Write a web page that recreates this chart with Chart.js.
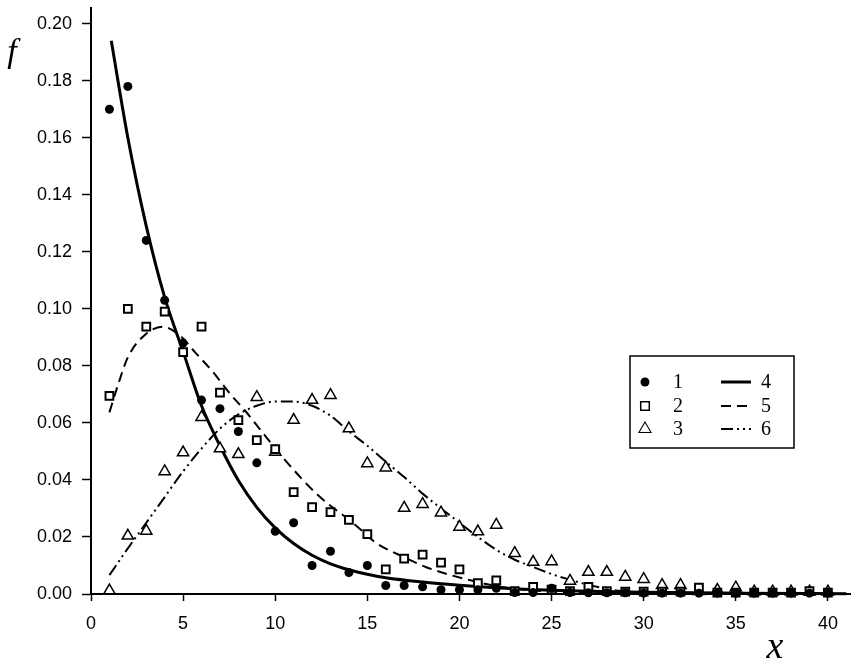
<!DOCTYPE html>
<html>
<head>
<meta charset="utf-8">
<script src="https://cdn.jsdelivr.net/npm/chart.js@4.4.1/dist/chart.umd.min.js"></script>
<style>
  html, body { margin: 0; padding: 0; background: #fff; }
  #wrap { width: 858px; height: 661px; }
</style>
</head>
<body>
<div id="wrap"><canvas id="scatterChart" width="858" height="661"></canvas></div>
<script>
// points, x = 1..40
const xValues = [1,2,3,4,5,6,7,8,9,10,11,12,13,14,15,16,17,18,19,20,21,22,23,24,25,26,27,28,29,30,31,32,33,34,35,36,37,38,39,40];
const series1 = [0.170,0.178,0.124,0.103,0.088,0.068,0.065,0.057,0.046,0.022,0.025,0.010,0.015,0.0075,0.010,0.003,0.003,0.0025,0.0015,0.0015,
                 0.0015,0.002,0.0005,0.0005,0.002,0.0005,0.0004,0.0004,0.0004,0.0003,0.0003,0.0003,0.0003,0.0003,0.0003,0.0003,0.0003,0.0003,0.0003,0.0003];
const series2 = [0.0695,0.100,0.0938,0.099,0.0848,0.0938,0.0706,0.061,0.054,0.0508,0.0357,0.0305,0.0287,0.026,0.021,0.0086,0.0124,0.0138,0.011,0.0086,
                 0.0038,0.0048,0.001,0.0025,0.0015,0.001,0.0025,0.001,0.0008,0.0008,0.0008,0.0008,0.0022,0.0005,0.0005,0.0005,0.0005,0.0005,0.001,0.0005];
const series3 = [0.0012,0.0204,0.0221,0.043,0.0496,0.062,0.051,0.049,0.069,0.0498,0.061,0.068,0.0697,0.058,0.0458,0.0443,0.0302,0.0315,0.0285,0.0235,
                 0.0219,0.0242,0.0143,0.0112,0.0114,0.0046,0.0077,0.0077,0.006,0.0052,0.0031,0.0031,0.001,0.0014,0.0022,0.0008,0.0008,0.0008,0.0008,0.0008];

// fitted curves
const curve4X = [1.1,2,3,4,5,6,7,8,9,10,11,12,13,14,15,16,18,20,22,25,30,35,41];
const curve4Y = [0.194,0.160,0.129,0.104,0.085,0.066,0.052,0.0398,0.0304,0.0232,0.0177,0.0136,0.0106,0.0085,0.0069,0.0057,0.0042,0.0031,0.0022,0.0013,0.0006,0.0003,0.0001];
const curve5X = [1,1.5,2,3,3.9,4.8,5.7,6.6,7.5,8.4,9.3,10.5,12.3,14.3,15.5,17,18.2,20.6,22.3,25,28,32,41];
const curve5Y = [0.0637,0.074,0.083,0.0913,0.0937,0.0908,0.0844,0.078,0.0706,0.064,0.0567,0.0472,0.0348,0.0245,0.0178,0.0129,0.0094,0.0048,0.0025,0.0008,0.0002,0,0];
const curve6X = [1,2,3,4,5,6,7,8,9,10,11,12,13,14,15,16,17,18,19,20,21,22,23,24,25,26,27,28,29,30,31,41];
const curve6Y = [0.0066,0.016,0.025,0.034,0.043,0.051,0.058,0.063,0.066,0.0675,0.0675,0.066,0.0625,0.057,0.052,0.0464,0.041,0.0352,0.030,0.025,
                 0.020,0.0155,0.012,0.0095,0.007,0.005,0.0032,0.0018,0.0008,0.0003,0,0];

const xTicks = [0,5,10,15,20,25,30,35,40];
const yTicks = [0,0.02,0.04,0.06,0.08,0.10,0.12,0.14,0.16,0.18,0.20];
const legendLabels = ['1','2','3','4','5','6'];

const pts = (xs, ys) => xs.map((x, i) => ({x: x, y: ys[i]}));

const SANS = '"Liberation Sans", Arial, sans-serif';
const SERIF = '"Liberation Serif", "Times New Roman", serif';

// legend box + axis letters
const extras = {
    id: 'extras',
    afterDraw(chart) {
        const ctx = chart.ctx;
        const ds = chart.data.datasets;
        ctx.save();
        // axis letters
        ctx.fillStyle = '#000';
        ctx.font = 'italic 34px ' + SERIF;
        ctx.textAlign = 'center';
        ctx.textBaseline = 'alphabetic';
        ctx.fillText('f', 12, 62);
        ctx.font = 'italic 38px ' + SERIF;
        ctx.fillText('x', 775, 658);

        // legend
        const bx = 630, by = 356, bw = 164, bh = 92;
        ctx.fillStyle = '#fff';
        ctx.fillRect(bx, by, bw, bh);
        ctx.strokeStyle = '#000';
        ctx.lineWidth = 1.5;
        ctx.strokeRect(bx, by, bw, bh);
        const rows = [382, 406, 429];
        ctx.font = '20px ' + SERIF;
        ctx.textBaseline = 'middle';
        for (let i = 0; i < 3; i++) {
            const d = ds[i];
            Chart.helpers.drawPoint(ctx, {
                pointStyle: d.pointStyle,
                radius: d.legendRadius,
                borderWidth: d.borderWidth,
                rotation: 0
            }, 645, rows[i]);
            ctx.fillStyle = d.pointBackgroundColor || d.backgroundColor;
            ctx.strokeStyle = '#000';
            ctx.lineWidth = d.borderWidth;
            if (d.borderWidth > 0) ctx.stroke();
            ctx.fill();
            ctx.fillStyle = '#000';
            ctx.textAlign = 'center';
            ctx.fillText(d.label, 678, rows[i] + 1);

            const c = ds[i + 3];
            ctx.beginPath();
            ctx.setLineDash(c.borderDash || []);
            ctx.lineWidth = c.borderWidth;
            ctx.strokeStyle = '#000';
            ctx.moveTo(721, rows[i]);
            ctx.lineTo(751, rows[i]);
            ctx.stroke();
            ctx.setLineDash([]);
            ctx.fillText(c.label, 766, rows[i] + 1);
        }
        ctx.restore();
    }
};

new Chart(document.getElementById('scatterChart'), {
    type: 'scatter',
    data: {
        datasets: [
            { label: legendLabels[0], data: pts(xValues, series1), pointStyle: 'circle', pointRadius: 4.5, legendRadius: 4.5,
              backgroundColor: '#000', pointBackgroundColor: '#000', borderColor: '#000', borderWidth: 0, order: 1 },
            { label: legendLabels[1], data: pts(xValues, series2), pointStyle: 'rect', pointRadius: 5.5, legendRadius: 5,
              backgroundColor: '#fff', pointBackgroundColor: '#fff', borderColor: '#000', borderWidth: 2, order: 2 },
            { label: legendLabels[2], data: pts(xValues, series3), pointStyle: 'triangle', pointRadius: 6.5, legendRadius: 6,
              backgroundColor: '#fff', pointBackgroundColor: '#fff', borderColor: '#000', borderWidth: 1.5, order: 3 },
            { label: legendLabels[3], data: pts(curve4X, curve4Y), showLine: true, pointRadius: 0, borderColor: '#000',
              borderWidth: 3, cubicInterpolationMode: 'monotone', order: 6 },
            { label: legendLabels[4], data: pts(curve5X, curve5Y), showLine: true, pointRadius: 0, borderColor: '#000',
              borderWidth: 2, borderDash: [10, 6], cubicInterpolationMode: 'monotone', order: 5 },
            { label: legendLabels[5], data: pts(curve6X, curve6Y), showLine: true, pointRadius: 0, borderColor: '#000',
              borderWidth: 2, borderDash: [12, 4, 2, 4, 2, 4], cubicInterpolationMode: 'monotone', order: 4 }
        ]
    },
    options: {
        responsive: false,
        animation: false,
        clip: false,
        layout: { padding: { left: 0, right: 1, top: 0, bottom: 0 } },
        plugins: { legend: { display: false }, tooltip: { enabled: false } },
        scales: {
            x: {
                type: 'linear', min: 0, max: 41.2,
                afterBuildTicks: s => { s.ticks = xTicks.map(v => ({value: v})); },
                afterFit: s => { s.height = 67; s.paddingLeft = 0; s.paddingRight = 0; },
                grid: { drawOnChartArea: false, drawTicks: true, tickLength: 7, color: '#000', tickWidth: 1.5 },
                border: { display: true, color: '#000', width: 2 },
                ticks: { color: '#000', padding: 12, maxRotation: 0, font: { family: SANS, size: 18 } }
            },
            y: {
                type: 'linear', min: 0, max: 0.2055,
                afterBuildTicks: s => { s.ticks = yTicks.map(v => ({value: v})); },
                afterFit: s => { s.width = 91; s.paddingTop = 0; s.paddingBottom = 0; },
                grid: { drawOnChartArea: false, drawTicks: true, tickLength: 9, color: '#000', tickWidth: 1.5 },
                border: { display: true, color: '#000', width: 2 },
                ticks: { color: '#000', padding: 10, font: { family: SANS, size: 18 },
                         callback: v => v.toFixed(2) }
            }
        }
    },
    plugins: [extras]
});
</script>
</body>
</html>
